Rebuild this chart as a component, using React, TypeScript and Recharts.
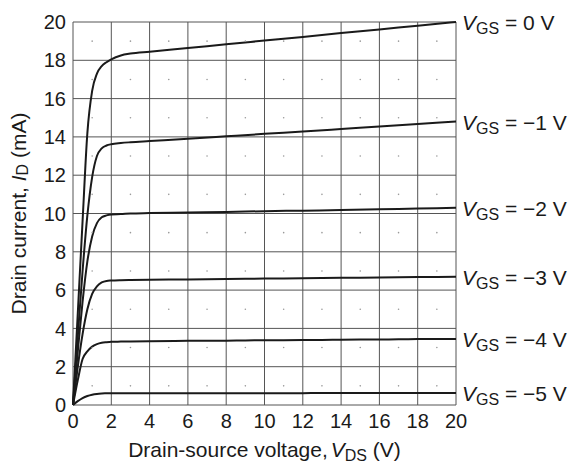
import React from "react";
import {
  CartesianGrid,
  ComposedChart,
  LabelList,
  Line,
  Scatter,
  XAxis,
  YAxis,
} from "recharts";

// drain-source voltage samples (V)
const VDS = [0, 0.25, 0.5, 0.75, 1, 1.25, 1.5, 1.75, 2, 2.5, 3, 4, 6, 8, 10, 12, 14, 16, 18, 20];

// drain current (mA) for each gate-source voltage
const ID_VGS_0 = [0, 4.8, 9.6, 14.2, 16.4, 17.3, 17.7, 17.9, 18.05, 18.25, 18.35, 18.45, 18.64, 18.84, 19.03, 19.22, 19.42, 19.61, 19.81, 20];
const ID_VGS_M1 = [0, 3.6, 7.0, 9.9, 11.9, 13.0, 13.4, 13.55, 13.62, 13.68, 13.72, 13.78, 13.9, 14.03, 14.16, 14.28, 14.41, 14.54, 14.67, 14.8];
const ID_VGS_M2 = [0, 2.8, 5.4, 7.5, 8.8, 9.5, 9.8, 9.9, 9.95, 9.97, 10.0, 10.02, 10.05, 10.08, 10.12, 10.15, 10.18, 10.22, 10.26, 10.3];
const ID_VGS_M3 = [0, 2.0, 3.7, 5.0, 5.8, 6.2, 6.4, 6.48, 6.5, 6.52, 6.53, 6.54, 6.56, 6.58, 6.6, 6.62, 6.64, 6.66, 6.68, 6.7];
const ID_VGS_M4 = [0, 1.3, 2.4, 2.8, 3.05, 3.18, 3.25, 3.28, 3.3, 3.31, 3.32, 3.33, 3.35, 3.36, 3.38, 3.39, 3.41, 3.42, 3.44, 3.45];
const ID_VGS_M5 = [0, 0.2, 0.36, 0.47, 0.54, 0.58, 0.6, 0.61, 0.62, 0.62, 0.62, 0.62, 0.62, 0.62, 0.62, 0.62, 0.63, 0.63, 0.63, 0.63];

const SERIES = [
  { key: "g0", label: "0", values: ID_VGS_0 },
  { key: "g1", label: "\u22121", values: ID_VGS_M1 },
  { key: "g2", label: "\u22122", values: ID_VGS_M2 },
  { key: "g3", label: "\u22123", values: ID_VGS_M3 },
  { key: "g4", label: "\u22124", values: ID_VGS_M4 },
  { key: "g5", label: "\u22125", values: ID_VGS_M5 },
];

const MAJOR_TICKS = [0, 2, 4, 6, 8, 10, 12, 14, 16, 18, 20];
const MINOR_TICKS = [1, 3, 5, 7, 9, 11, 13, 15, 17, 19];

const data = VDS.map((vds, i) => {
  const row: Record<string, number> = { vds };
  SERIES.forEach((s) => (row[s.key] = s.values[i]));
  return row;
});

const minorDots = MINOR_TICKS.flatMap((x) => MINOR_TICKS.map((y) => ({ vds: x, dot: y })));

const FONT = "'Liberation Sans', Arial, sans-serif";
const INK = "#1a1a1a";

const endLabel = (vgs: string) => (props: any) => {
  const { x, y, index } = props;
  if (index !== VDS.length - 1) return null;
  return (
    <text x={x + 6} y={y + 8} fontFamily={FONT} fontSize={21} fill={INK}>
      <tspan fontStyle="italic">V</tspan>
      <tspan fontSize={16} dy={4}>GS</tspan>
      <tspan dy={-4}>{` = ${vgs} V`}</tspan>
    </text>
  );
};

const YLabel = (props: any) => {
  const { viewBox } = props;
  const cx = 18;
  const cy = viewBox.y + viewBox.height / 2;
  return (
    <text
      x={cx}
      y={cy}
      transform={`rotate(-90 ${cx} ${cy})`}
      textAnchor="middle"
      dominantBaseline="central"
      fontFamily={FONT}
      fontSize={21}
      fill={INK}
    >
      Drain current,{" "}
      <tspan fontStyle="italic">I</tspan>
      <tspan fontSize={16} dy={4}>D</tspan>
      <tspan dy={-4}> (mA)</tspan>
    </text>
  );
};

const XLabel = (props: any) => {
  const { viewBox } = props;
  const cx = viewBox.x + viewBox.width / 2;
  return (
    <text x={cx} y={457} textAnchor="middle" fontFamily={FONT} fontSize={21} fill={INK}>
      Drain-source voltage,
      <tspan fontStyle="italic" dx={3}>V</tspan>
      <tspan fontSize={16} dy={4}>DS</tspan>
      <tspan dy={-4}> (V)</tspan>
    </text>
  );
};

const tickStyle = { fontSize: 20, fontFamily: FONT, fill: INK };

export default function App() {
  return (
    <div style={{ position: "absolute", left: 0, top: 0, background: "#fff" }}>
      <ComposedChart
        width={571}
        height={464}
        data={data}
        margin={{ top: 22, right: 115, bottom: 0, left: 0 }}
      >
        <CartesianGrid
          horizontalValues={MAJOR_TICKS}
          verticalValues={MAJOR_TICKS}
          stroke="#555"
          strokeWidth={1}
        />
        <XAxis
          dataKey="vds"
          type="number"
          domain={[0, 20]}
          ticks={MAJOR_TICKS}
          interval={0}
          height={59}
          axisLine={false}
          tickLine={false}
          tickMargin={3}
          tick={tickStyle}
          label={<XLabel />}
        />
        <YAxis
          type="number"
          domain={[0, 20]}
          ticks={MAJOR_TICKS}
          interval={0}
          width={73}
          axisLine={false}
          tickLine={false}
          tickMargin={1}
          tick={tickStyle}
          label={<YLabel />}
        />
        <Scatter
          data={minorDots}
          dataKey="dot"
          isAnimationActive={false}
          shape={(p: any) => <circle cx={p.cx} cy={p.cy} r={0.8} fill="#999" />}
        />
        {SERIES.map((s) => (
          <Line
            key={s.key}
            dataKey={s.key}
            type="monotone"
            stroke={INK}
            strokeWidth={2}
            dot={false}
            isAnimationActive={false}
          >
            <LabelList dataKey={s.key} content={endLabel(s.label)} />
          </Line>
        ))}
      </ComposedChart>
    </div>
  );
}
